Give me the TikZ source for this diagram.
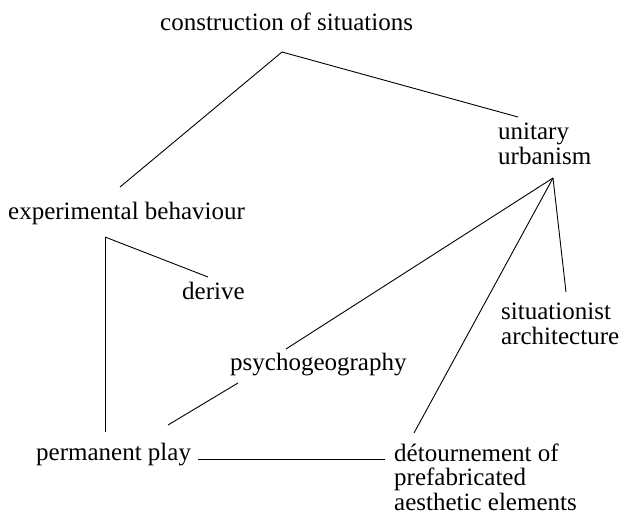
\documentclass[tikz,border=0pt]{standalone}
\usepackage{fontspec}
\setmainfont{Liberation Serif}
\begin{document}
\begin{tikzpicture}[x=1pt,y=-1pt,
  lbl/.style={anchor=base west,inner sep=0pt,align=left,font=\fontsize{25}{24.5}\selectfont},
  conn/.style={line width=0.9pt}]
\useasboundingbox (0,0) rectangle (621,514);
\node[lbl] (cos) at (160,30) {construction of situations};
\node[lbl] (uu) at (498,164) {unitary\\urbanism};
\node[lbl] (eb) at (8,219) {experimental behaviour};
\node[lbl] (der) at (182,299) {derive};
\node[lbl] (sa) at (501,344) {situationist\\architecture};
\node[lbl] (psy) at (230,370) {psychogeography};
\node[lbl] (pp) at (36,460) {permanent play};
\node[lbl] (det) at (394,510) {détournement of\\prefabricated\\aesthetic elements};
\coordinate (cosH) at (282,52);
\coordinate (ebIn) at (120,187);
\coordinate (uuIn) at (518,117);
\coordinate (ebH) at (105,237);
\coordinate (ppIn) at (105,432);
\coordinate (derIn) at (208,277);
\coordinate (uuH) at (553,178);
\coordinate (psyIn) at (286,349);
\coordinate (detIn) at (414,433);
\coordinate (saIn) at (566,292);
\coordinate (psyOut) at (238,383);
\coordinate (ppOut) at (168,425);
\coordinate (ppR) at (198,459);
\coordinate (detL) at (385,459);
\draw[conn] (cosH) -- (ebIn);
\draw[conn] (cosH) -- (uuIn);
\draw[conn] (ebH) -- (ppIn);
\draw[conn] (ebH) -- (derIn);
\draw[conn] (uuH) -- (psyIn);
\draw[conn] (uuH) -- (detIn);
\draw[conn] (uuH) -- (saIn);
\draw[conn] (psyOut) -- (ppOut);
\draw[conn] (ppR) -- (detL);
\end{tikzpicture}
\end{document}
